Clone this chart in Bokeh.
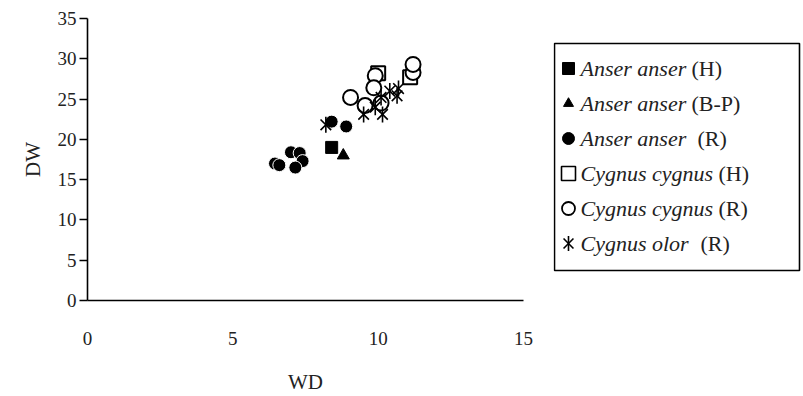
from bokeh.plotting import figure
from bokeh.models import Range1d, FixedTicker
from bokeh.layouts import row
from bokeh.embed import file_html
from bokeh.resources import INLINE
from bokeh.core.properties import value

FONT = "Liberation Serif, Times New Roman, serif"

# ---- data ----
aa_h_x = [8.4]
aa_h_y = [19.0]
aa_bp_x = [8.8]
aa_bp_y = [18.0]
aa_r_x = [6.45, 6.6, 7.0, 7.3, 7.4, 7.15, 8.4, 8.9]
aa_r_y = [17.0, 16.8, 18.4, 18.3, 17.3, 16.5, 22.2, 21.6]
cc_h_x = [10.0, 11.1]
cc_h_y = [28.2, 27.7]
cc_r_x = [9.9, 9.85, 9.05, 9.55, 10.1, 11.2, 11.2]
cc_r_y = [27.9, 26.4, 25.2, 24.2, 24.5, 28.3, 29.3]
co_r_x = [8.2, 9.5, 10.15, 9.9, 10.1, 10.4, 10.65, 10.7]
co_r_y = [21.8, 23.1, 23.1, 24.0, 25.2, 26.0, 25.4, 26.3]

x_ticks = [0, 5, 10, 15]
y_ticks = [0, 5, 10, 15, 20, 25, 30, 35]

legend_names = ["Anser anser", "Anser anser", "Anser anser",
                "Cygnus cygnus", "Cygnus cygnus", "Cygnus olor"]
legend_tags = ["(H)", "(B-P)", "(R)", "(H)", "(R)", "(R)"]

H = 396
TOP = 18
BOT = H - 300

# ---- main plot ----
p = figure(width=553, height=H, output_backend="svg", toolbar_location=None,
           x_range=Range1d(0, 15), y_range=Range1d(0, 35),
           min_border_left=87, min_border_right=30, min_border_top=TOP,
           min_border_bottom=BOT)
p.outline_line_color = None
p.grid.visible = False

xa = p.xaxis[0]
xa.ticker = FixedTicker(ticks=x_ticks)
xa.axis_label = "WD"
xa.major_tick_out = 0
xa.major_tick_in = 0
xa.minor_tick_out = 0
xa.minor_tick_in = 0
xa.major_label_standoff = 31
xa.axis_label_standoff = 22

ya = p.yaxis[0]
ya.ticker = FixedTicker(ticks=y_ticks)
ya.axis_label = "DW"
ya.major_tick_out = 8
ya.major_tick_in = 0
ya.minor_tick_out = 0
ya.minor_tick_in = 0
ya.major_label_standoff = 3
ya.axis_label_standoff = 10

for ax in (xa, ya):
    ax.axis_line_color = "black"
    ax.axis_line_width = 1.6
    ax.major_tick_line_color = "black"
    ax.major_tick_line_width = 1.6
    ax.major_label_text_font = FONT
    ax.major_label_text_font_size = "19px"
    ax.major_label_text_color = "#222222"
    ax.axis_label_text_font = FONT
    ax.axis_label_text_font_size = "21px"
    ax.axis_label_text_font_style = "normal"
    ax.axis_label_text_color = "#222222"

K = "black"
p.scatter(aa_h_x, aa_h_y, marker="square", size=12, fill_color=K, line_color=K)
p.scatter(aa_bp_x, aa_bp_y, marker="triangle", size=12, fill_color=K, line_color=K)
p.scatter(aa_r_x, aa_r_y, marker="circle", size=13, fill_color=K, line_color="white", line_width=1)
p.scatter(cc_h_x, cc_h_y, marker="square", size=14, fill_color="white", line_color=K, line_width=2)
p.scatter(cc_r_x, cc_r_y, marker="circle", size=15, fill_color="white", line_color=K, line_width=2)
p.scatter(co_r_x, co_r_y, marker="x", size=15, line_color=K, line_width=1.6)
p.scatter(co_r_x, co_r_y, marker="dash", size=16, angle=1.5708, line_color=K, line_width=1.6)

# ---- legend panel (same vertical borders so the row aligns) ----
LW = 248
FH = 300 - TOP
lg = figure(width=LW, height=H, output_backend="svg", toolbar_location=None,
            x_range=Range1d(0, LW), y_range=Range1d(FH, 0),
            min_border_left=0, min_border_right=0, min_border_top=TOP,
            min_border_bottom=BOT)
lg.axis.visible = False
lg.grid.visible = False
lg.outline_line_color = None

# box frame (pixel offsets inside the panel)
lg.quad(left=[1], right=[LW - 2], top=[43 - TOP], bottom=[270 - TOP],
        fill_color=None, line_color="black", line_width=1.6)

ys = [68 - TOP + i * 35 for i in range(6)]
mx = [15] * 6
name_x = [27] * 6
tag_x = [138, 138, 144, 165, 165, 147]

lg.scatter(mx[0:1], ys[0:1], marker="square", size=12, fill_color=K, line_color=K)
lg.scatter(mx[1:2], ys[1:2], marker="triangle", size=10, fill_color=K, line_color=K)
lg.scatter(mx[2:3], ys[2:3], marker="circle", size=12, fill_color=K, line_color=K)
lg.scatter(mx[3:4], ys[3:4], marker="square", size=14, fill_color="white", line_color=K, line_width=1.6)
lg.scatter(mx[4:5], ys[4:5], marker="circle", size=13, fill_color="white", line_color=K, line_width=1.8)
lg.scatter(mx[5:6], ys[5:6], marker="x", size=14, line_color=K, line_width=1.6)
lg.scatter(mx[5:6], ys[5:6], marker="dash", size=15, angle=1.5708, line_color=K, line_width=1.6)

lg.text(name_x, ys, text=legend_names, text_font=value(FONT), text_font_size="22px",
        text_font_style="italic", text_baseline="middle", text_align="left", text_color="#222222")
lg.text(tag_x, ys, text=legend_tags, text_font=value(FONT), text_font_size="22px",
        text_baseline="middle", text_align="left", text_color="#222222")

layout = row(p, lg)
open("out.html", "w").write(file_html(layout, INLINE))
